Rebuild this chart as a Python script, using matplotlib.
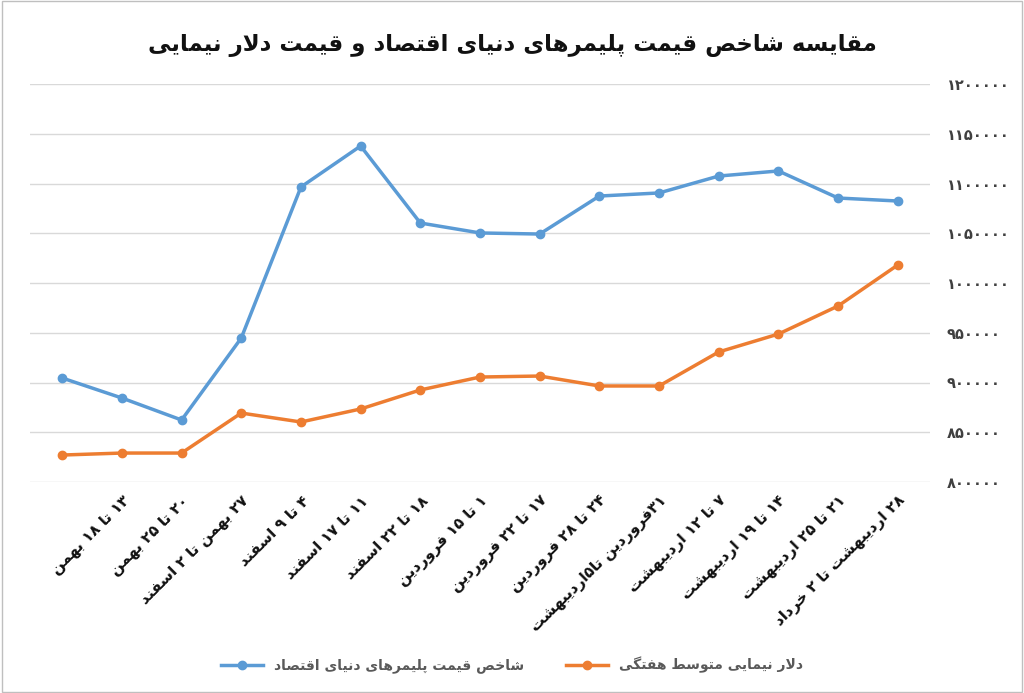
import matplotlib
matplotlib.use("Agg")
import matplotlib.pyplot as plt
from matplotlib.patches import Rectangle

# ---- simple Persian shaper ----
FORMS = {
 'ا':(0xFE8D,0xFE8E),'ب':(0xFE8F,0xFE90,0xFE91,0xFE92),'پ':(0xFB56,0xFB57,0xFB58,0xFB59),
 'ت':(0xFE95,0xFE96,0xFE97,0xFE98),'ث':(0xFE99,0xFE9A,0xFE9B,0xFE9C),'ج':(0xFE9D,0xFE9E,0xFE9F,0xFEA0),
 'چ':(0xFB7A,0xFB7B,0xFB7C,0xFB7D),'ح':(0xFEA1,0xFEA2,0xFEA3,0xFEA4),'خ':(0xFEA5,0xFEA6,0xFEA7,0xFEA8),
 'د':(0xFEA9,0xFEAA),'ذ':(0xFEAB,0xFEAC),'ر':(0xFEAD,0xFEAE),'ز':(0xFEAF,0xFEB0),'ژ':(0xFB8A,0xFB8B),
 'س':(0xFEB1,0xFEB2,0xFEB3,0xFEB4),'ش':(0xFEB5,0xFEB6,0xFEB7,0xFEB8),'ص':(0xFEB9,0xFEBA,0xFEBB,0xFEBC),
 'ض':(0xFEBD,0xFEBE,0xFEBF,0xFEC0),'ط':(0xFEC1,0xFEC2,0xFEC3,0xFEC4),'ظ':(0xFEC5,0xFEC6,0xFEC7,0xFEC8),
 'ع':(0xFEC9,0xFECA,0xFECB,0xFECC),'غ':(0xFECD,0xFECE,0xFECF,0xFED0),'ف':(0xFED1,0xFED2,0xFED3,0xFED4),
 'ق':(0xFED5,0xFED6,0xFED7,0xFED8),'ک':(0xFB8E,0xFB8F,0xFB90,0xFB91),'گ':(0xFB92,0xFB93,0xFB94,0xFB95),
 'ل':(0xFEDD,0xFEDE,0xFEDF,0xFEE0),'م':(0xFEE1,0xFEE2,0xFEE3,0xFEE4),'ن':(0xFEE5,0xFEE6,0xFEE7,0xFEE8),
 'و':(0xFEED,0xFEEE),'ه':(0xFEE9,0xFEEA,0xFEEB,0xFEEC),'ی':(0xFBFC,0xFBFD,0xFBFE,0xFBFF),
}
DIG = '۰۱۲۳۴۵۶۷۸۹'

def dual(c):
    return c in FORMS and len(FORMS[c]) == 4

def fa(s):
    out = []
    i = 0
    n = len(s)
    while i < n:
        c = s[i]
        prev = s[i-1] if i > 0 else ''
        jp = dual(prev)
        if c == 'ل' and i+1 < n and s[i+1] == 'ا':
            out.append(chr(0xFEFC if jp else 0xFEFB)); i += 2; continue
        if c in FORMS:
            f = FORMS[c]
            nxt = s[i+1] if i+1 < n else ''
            jn = dual(c) and nxt in FORMS
            if jp and jn: ch = f[3]
            elif jp: ch = f[1]
            elif jn: ch = f[2]
            else: ch = f[0]
            out.append(chr(ch))
        else:
            out.append(c)
        i += 1
    runs = []
    for ch in out:
        if ch in DIG and runs and runs[-1][0] in DIG:
            runs[-1] += ch
        else:
            runs.append(ch)
    return ''.join(reversed(runs))

def pd(num):
    return ''.join(DIG[int(d)] for d in str(num))

# ---- data ----
categories = ['', '۱۳ تا ۱۸ بهمن', '۲۰ تا ۲۵ بهمن', '۲۷ بهمن تا ۲ اسفند', '۴ تا ۹ اسفند',
              '۱۱ تا ۱۷ اسفند', '۱۸ تا ۲۲ اسفند', '۱ تا ۱۵ فروردین', '۱۷ تا ۲۲ فروردین',
              '۲۴ تا ۲۸ فروردین', '۳۱فروردین تا۵اردیبهشت', '۷ تا ۱۲ اردیبهشت',
              '۱۴ تا ۱۹ اردیبهشت', '۲۱ تا ۲۵ اردیبهشت', '۲۸ اردیبهشت تا ۲ خرداد']
polymer_index = [904500, 884400, 862300, 944700, 1096500, 1137700, 1060300, 1050300,
                 1049200, 1087400, 1090500, 1107500, 1112600, 1085400, 1082400]
nima_dollar = [827100, 829100, 829100, 869300, 860300, 873400, 892500, 905500,
               906500, 896500, 896500, 930700, 948700, 976900, 1018100]
yticks = list(range(800000, 1200001, 50000))
title = 'مقایسه شاخص قیمت پلیمرهای دنیای اقتصاد و قیمت دلار نیمایی'
name_poly = 'شاخص قیمت پلیمرهای دنیای اقتصاد'
name_nima = 'دلار نیمایی متوسط هفتگی'

fig = plt.figure(figsize=(10.24, 6.93), dpi=100)
ax = fig.add_axes([30/1024, (693-482)/693, 900/1024, 398/693])
x = list(range(len(categories)))
ax.plot(x, polymer_index, color='#5B9BD5', lw=2.5, marker='o', ms=6, label=fa(name_poly), zorder=3)
ax.plot(x, nima_dollar, color='#ED7D31', lw=2.5, marker='o', ms=6, label=fa(name_nima), zorder=3)
ax.set_ylim(800000, 1200000)
ax.set_xlim(-0.54, 14.54)
ax.set_yticks(yticks)
ax.set_yticklabels([pd(v) for v in yticks], fontsize=10.5, color='#404040', fontweight='bold')
ax.yaxis.tick_right()
ax.tick_params(axis='y', length=0, pad=12)
ax.set_xticks(x)
ax.set_xticklabels([fa(c) for c in categories], rotation=45, ha='right',
                   rotation_mode='anchor', fontsize=11, color='#111111', fontweight='bold')
ax.tick_params(axis='x', length=0, pad=8)
ax.grid(axis='y', color='#D9D9D9', lw=1)
for s in ax.spines.values():
    s.set_visible(False)
fig.text(0.5, 0.935, fa(title), ha='center', va='center', fontsize=16.5, fontweight='bold', color='#111111')
fig.legend(loc='center', bbox_to_anchor=(0.5, 1-665/693), ncol=2, frameon=False,
           prop={'size': 10, 'weight': 'bold'}, columnspacing=3, handlelength=3,
           labelcolor='#595959')
fig.patches.append(Rectangle((0.002, 0.002), 0.996, 0.996, transform=fig.transFigure,
                             fill=False, edgecolor='#BFBFBF', lw=1))
fig.savefig('out.png', dpi=100)
